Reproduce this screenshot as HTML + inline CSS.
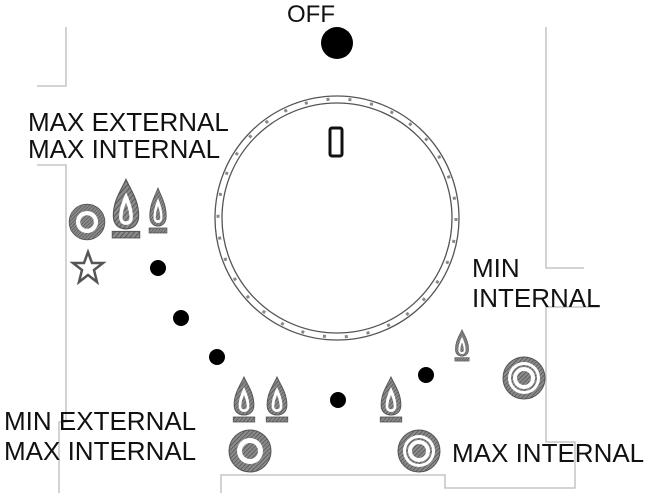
<!DOCTYPE html>
<html><head><style>
html,body{margin:0;padding:0;background:#fff}
svg{display:block}
text{font-family:"Liberation Sans",sans-serif;fill:#111}
</style></head><body>
<svg width="650" height="493" viewBox="0 0 650 493" xmlns="http://www.w3.org/2000/svg">
<defs>
<pattern id="h" width="3" height="3" patternUnits="userSpaceOnUse" patternTransform="rotate(45)">
<rect width="3" height="3" fill="#8a8a8a"/><line x1="0" y1="0" x2="0" y2="3" stroke="#444" stroke-width="1.2"/>
</pattern>
<g id="flame">
<path d="M0,-22 C-4,-14 -11,-6 -11,6 C-11,13 -6,16 0,16 C6,16 11,13 11,6 C11,-6 4,-14 0,-22Z" fill="url(#h)" stroke="#555" stroke-width="1"/>
<path d="M0,-12 C-3,-6 -6,0 -6,7 C-6,11 -3,13 0,13 C3,13 6,11 6,7 C6,0 3,-6 0,-12Z" fill="#fff"/>
<path d="M0,-4 C-2,0 -3,4 -3,8 C-3,11 3,11 3,8 C3,4 2,0 0,-4Z" fill="url(#h)"/>
<rect x="-12" y="18" width="24" height="5" fill="url(#h)" stroke="#555" stroke-width="0.8"/>
</g>
<g id="target">
<circle r="21" fill="url(#h)" stroke="#555"/>
<circle r="13" fill="#fff"/>
<circle r="8" fill="url(#h)"/>
</g>
<g id="target3">
<circle r="21" fill="url(#h)" stroke="#555"/>
<circle r="16" fill="#fff"/>
<circle r="13" fill="url(#h)"/>
<circle r="11" fill="#fff"/>
<circle r="7" fill="url(#h)"/>
</g>
</defs>
<g stroke="#bbb" stroke-width="1.3" fill="none">
<polyline points="66,27 66,86 37,86"/>
<polyline points="37,165 66,165 66,422 59,422 59,493"/>
<polyline points="546,27 546,268 584,268"/>
<polyline points="600,307 546,307 546,442 575,442 575,488 445,488 445,475 221,475 221,493"/>
</g>
<text x="311" y="22" font-size="24" text-anchor="middle">OFF</text>
<circle cx="337" cy="43" r="16" fill="#000"/>
<circle cx="337" cy="218" r="122" fill="#fff" stroke="#555" stroke-width="1.3"/>
<circle cx="337" cy="218" r="119" fill="none" stroke="#888" stroke-width="3" stroke-dasharray="3 19"/>
<circle cx="337" cy="218" r="115" fill="none" stroke="#555" stroke-width="1.3"/>
<rect x="330" y="128" width="12" height="28" rx="2" fill="none" stroke="#111" stroke-width="3"/>
<text x="28" y="131" font-size="26">MAX EXTERNAL</text>
<text x="28" y="158" font-size="26">MAX INTERNAL</text>
<text x="472" y="277" font-size="26">MIN</text>
<text x="472" y="307" font-size="26">INTERNAL</text>
<text x="4" y="430" font-size="26">MIN EXTERNAL</text>
<text x="4" y="460" font-size="26">MAX INTERNAL</text>
<text x="452" y="462" font-size="26">MAX INTERNAL</text>
<g transform="translate(87,222) scale(0.85)"><use href="#target"/></g>
<g transform="translate(126,208) scale(1.15,1.3)"><use href="#flame"/></g>
<g transform="translate(158,210) scale(0.75,1)"><use href="#flame"/></g>
<path d="M88,252 L92,263 L103,263 L94,270 L97,282 L88,275 L79,282 L82,270 L73,263 L84,263Z" fill="#fff" stroke="#555" stroke-width="2.5"/>
<g fill="#000">
<circle cx="158" cy="268" r="8"/>
<circle cx="181" cy="318" r="8"/>
<circle cx="217" cy="357" r="8"/>
<circle cx="338" cy="400" r="8"/>
<circle cx="426" cy="375" r="8"/>
</g>
<g transform="translate(244,399) scale(0.9,1)"><use href="#flame"/></g>
<g transform="translate(277,399) scale(0.9,1)"><use href="#flame"/></g>
<g transform="translate(391,399) scale(0.9,1)"><use href="#flame"/></g>
<g transform="translate(462,345) scale(0.6,0.7)"><use href="#flame"/></g>
<g transform="translate(250,451)"><use href="#target"/></g>
<g transform="translate(419,451)"><use href="#target3"/></g>
<g transform="translate(524,378)"><use href="#target3"/></g>
</svg>
</body></html>
